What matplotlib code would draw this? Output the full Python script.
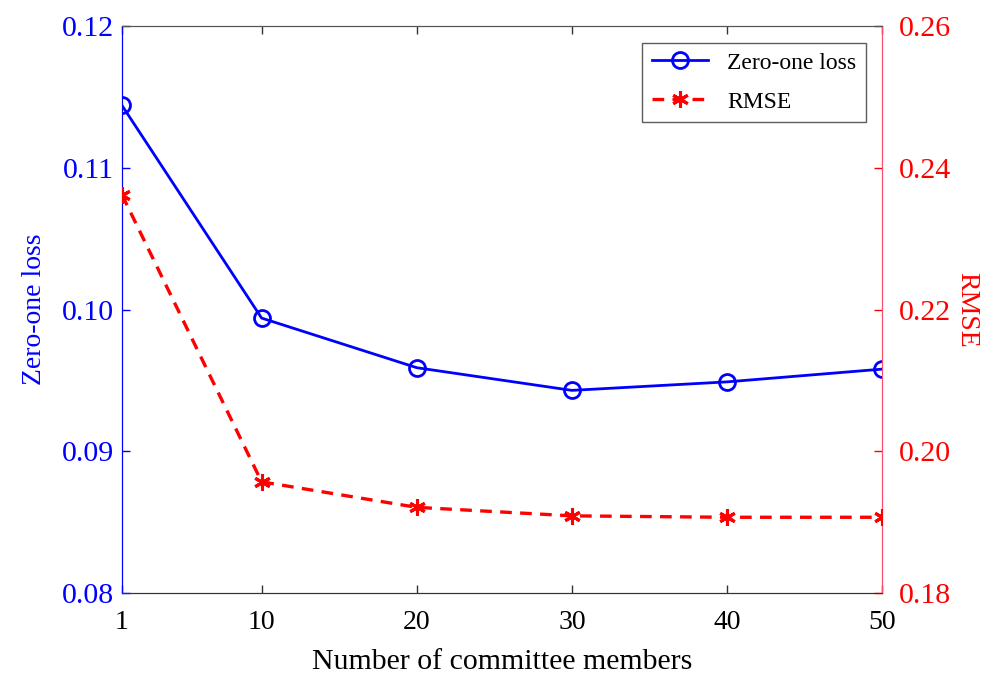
import numpy as np
import matplotlib
matplotlib.use('Agg')
import matplotlib.pyplot as plt

# 数据
members = [1, 10, 20, 30, 40, 50]
zero_one_loss = [0.1144, 0.0994, 0.0959, 0.0943, 0.0949, 0.0958]
rmse = [0.2362, 0.1957, 0.1921, 0.1909, 0.1907, 0.1907]
x_ticks = [1, 10, 20, 30, 40, 50]
left_ticks = [0.08, 0.09, 0.10, 0.11, 0.12]
right_ticks = [0.18, 0.20, 0.22, 0.24, 0.26]

plt.rcParams['font.family'] = ['Liberation Serif', 'DejaVu Serif']

fig = plt.figure(figsize=(10.03, 6.74), dpi=100)
ax = fig.add_axes([0.1216, 0.120, 0.758, 0.8414])
ax2 = ax.twinx()

red = '#ff0000'
blue = '#0000ff'

# 左轴: Zero-one loss
l1, = ax.plot(members, zero_one_loss, '-', color=blue, linewidth=2.0,
              marker='o', markersize=11.5, markerfacecolor='none',
              markeredgewidth=2.0, label='Zero-one loss', zorder=3)
# 右轴: RMSE
l2, = ax2.plot(members, rmse, '--', color=red, linewidth=2.4,
               marker=(6, 2, 0), markersize=12, markeredgewidth=2.2,
               dashes=(3.5, 2.5), label='RMSE', zorder=3)

ax.set_xlim(1, 50)
ax.set_ylim(0.08, 0.12)
ax2.set_ylim(0.18, 0.26)
ax.set_xticks(x_ticks)
ax.set_yticks(left_ticks)
ax.set_yticklabels(['%.2f' % v for v in left_ticks])
ax2.set_yticks(right_ticks)
ax2.set_yticklabels(['%.2f' % v for v in right_ticks])

ax.tick_params(axis='x', direction='in', top=True, length=6, width=1,
               colors='#333333', labelcolor='black', labelsize=20, pad=12)
ax.tick_params(axis='y', direction='in', length=6, width=1,
               colors=blue, labelsize=21.5, pad=6)
ax2.tick_params(axis='y', direction='in', length=6, width=1,
                colors=red, labelsize=21.5, pad=12)

for a in (ax, ax2):
    a.spines['top'].set_color('#555555')
    a.spines['bottom'].set_color('#333333')
    a.spines['left'].set_color(blue)
    a.spines['right'].set_color('#ff4d6d')

ax.set_xlabel('Number of committee members', fontsize=21.5, labelpad=10)
ax.set_ylabel('Zero-one loss', fontsize=20, color=blue, labelpad=10)
ax2.set_ylabel('RMSE', fontsize=20, color=red, rotation=270, labelpad=20)

leg = ax2.legend(handles=[l1, l2], loc='upper right', fontsize=17,
                 frameon=True, fancybox=False, edgecolor='#333333',
                 borderaxespad=0.7, handlelength=2.4, handletextpad=0.8,
                 labelspacing=0.75, borderpad=0.4)
leg.get_frame().set_linewidth(1.0)

fig.savefig('out.png', dpi=100)
